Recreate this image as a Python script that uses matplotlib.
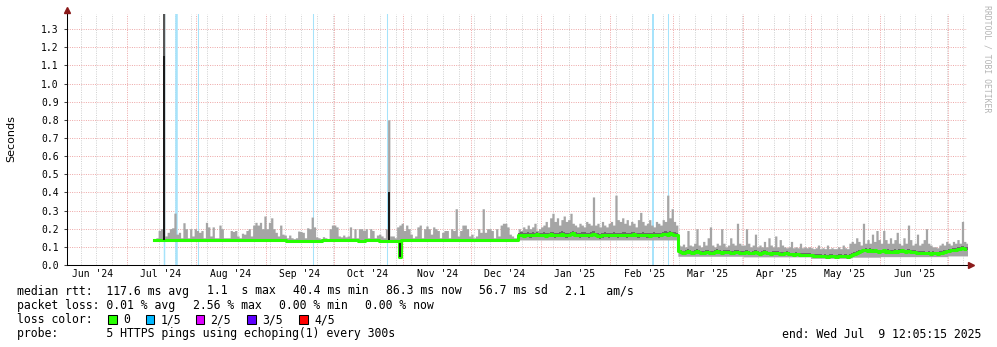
import numpy as np
import pandas as pd
import matplotlib
matplotlib.use("Agg")
import matplotlib.pyplot as plt
import matplotlib.dates as mdates
from matplotlib.patches import Rectangle

# graph window: 400 days ending at the last update
t_end = pd.Timestamp("2025-07-09 12:05:15")
t_start = t_end - pd.Timedelta(days=400)

# one consolidated row per day
days = pd.date_range("2024-07-13", "2025-07-09", freq="D")

# max ping (top of the smoke), seconds
hi_jul24 = [0.145, 0.15, 0.19, 0.2, 1.45, 0.16, 0.18, 0.2, 0.205, 0.286, 0.17, 0.18, 0.15, 0.233, 0.2, 0.15,
            0.2, 0.16, 0.2]
hi_aug24 = [0.19, 0.18, 0.19, 0.15, 0.235, 0.21, 0.16, 0.21, 0.15, 0.15, 0.22, 0.2, 0.15, 0.15, 0.15, 0.19,
            0.185, 0.19, 0.16, 0.15, 0.175, 0.17, 0.19, 0.2, 0.16, 0.22, 0.235, 0.22, 0.235, 0.2, 0.27]
hi_sep24 = [0.2, 0.235, 0.26, 0.2, 0.18, 0.16, 0.22, 0.17, 0.165, 0.15, 0.165, 0.15, 0.145, 0.15, 0.187, 0.185,
            0.18, 0.15, 0.205, 0.2, 0.264, 0.21, 0.155, 0.15, 0.145, 0.156, 0.15, 0.145, 0.2, 0.22]
hi_oct24 = [0.22, 0.21, 0.16, 0.155, 0.165, 0.155, 0.16, 0.21, 0.15, 0.2, 0.15, 0.2, 0.2, 0.19, 0.2, 0.15,
            0.2, 0.19, 0.15, 0.165, 0.17, 0.16, 0.15, 0.2, 0.8, 0.16, 0.16, 0.15, 0.21, 0.22, 0.23]
hi_nov24 = [0.19, 0.22, 0.2, 0.17, 0.15, 0.16, 0.21, 0.22, 0.15, 0.2, 0.215, 0.2, 0.17, 0.21, 0.2, 0.19,
            0.15, 0.18, 0.19, 0.19, 0.15, 0.2, 0.19, 0.31, 0.16, 0.19, 0.22, 0.22, 0.2, 0.16]
hi_dec24 = [0.17, 0.15, 0.16, 0.2, 0.18, 0.31, 0.18, 0.2, 0.2, 0.19, 0.15, 0.2, 0.16, 0.22, 0.23, 0.23,
            0.21, 0.17, 0.16, 0.15, 0.15, 0.2, 0.19, 0.21, 0.2, 0.22, 0.2, 0.21, 0.23, 0.19, 0.2]
hi_jan25 = [0.21, 0.22, 0.24, 0.21, 0.26, 0.285, 0.24, 0.26, 0.22, 0.25, 0.27, 0.24, 0.25, 0.285, 0.23, 0.22,
            0.21, 0.23, 0.22, 0.21, 0.24, 0.23, 0.22, 0.375, 0.22, 0.23, 0.21, 0.24, 0.22, 0.21, 0.23]
hi_feb25 = [0.24, 0.22, 0.385, 0.25, 0.24, 0.26, 0.23, 0.25, 0.22, 0.24, 0.23, 0.21, 0.25, 0.29, 0.24, 0.22,
            0.23, 0.25, 0.22, 0.21, 0.24, 0.23, 0.22, 0.25, 0.24, 0.385, 0.26, 0.31]
hi_mar25 = [0.24, 0.22, 0.11, 0.105, 0.115, 0.1, 0.19, 0.11, 0.105, 0.12, 0.2, 0.11, 0.1, 0.13, 0.11, 0.15,
            0.21, 0.11, 0.1, 0.12, 0.11, 0.2, 0.12, 0.1, 0.11, 0.15, 0.12, 0.11, 0.23, 0.12, 0.11]
hi_apr25 = [0.11, 0.2, 0.12, 0.1, 0.11, 0.17, 0.1, 0.11, 0.1, 0.13, 0.1, 0.15, 0.11, 0.1, 0.16, 0.1,
            0.14, 0.11, 0.1, 0.095, 0.1, 0.13, 0.095, 0.1, 0.095, 0.12, 0.095, 0.1, 0.095, 0.1]
hi_may25 = [0.095, 0.09, 0.095, 0.11, 0.09, 0.095, 0.09, 0.11, 0.09, 0.095, 0.09, 0.09, 0.1, 0.09, 0.11, 0.095,
            0.09, 0.12, 0.13, 0.12, 0.15, 0.13, 0.11, 0.23, 0.12, 0.14, 0.12, 0.17, 0.13, 0.19, 0.14]
hi_jun25 = [0.12, 0.19, 0.14, 0.12, 0.15, 0.12, 0.14, 0.18, 0.12, 0.11, 0.15, 0.12, 0.22, 0.14, 0.11, 0.12,
            0.17, 0.11, 0.12, 0.14, 0.2, 0.12, 0.11, 0.1, 0.1, 0.095, 0.11, 0.12, 0.11, 0.13]
hi_jul25 = [0.12, 0.11, 0.13, 0.12, 0.14, 0.12, 0.24, 0.13, 0.12]

# median rtt, seconds
med_jul24 = [0.138] * 19
med_aug24 = [0.138] * 26 + [0.136] * 5
med_sep24 = [0.136] * 9 + [0.13] * 16 + [0.136] * 5
med_oct24 = [0.138] * 11 + [0.133] * 3 + [0.138] * 6 + [0.13] * 9 + [0.046, 0.138]
med_nov24 = [0.138] * 30
med_dec24 = [0.138] * 21 + [0.163, 0.168, 0.162, 0.165, 0.168, 0.163, 0.166, 0.165, 0.17, 0.165]
med_jan25 = [0.165, 0.168, 0.162, 0.165, 0.17, 0.166, 0.163, 0.165, 0.168, 0.172, 0.166, 0.163, 0.165, 0.17,
             0.175, 0.168, 0.165, 0.163, 0.166, 0.168, 0.165, 0.163, 0.168, 0.172, 0.165, 0.16, 0.158, 0.163,
             0.168, 0.165, 0.163]
med_feb25 = [0.165, 0.168, 0.165, 0.163, 0.165, 0.168, 0.166, 0.163, 0.165, 0.168, 0.17, 0.165, 0.163, 0.165,
             0.168, 0.165, 0.163, 0.162, 0.165, 0.167, 0.165, 0.163, 0.165, 0.17, 0.172, 0.168, 0.175, 0.17]
med_mar25 = [0.168, 0.165, 0.075, 0.072, 0.068, 0.074, 0.078, 0.07, 0.066, 0.072, 0.076, 0.07, 0.066, 0.068,
             0.074, 0.07, 0.065, 0.068, 0.072, 0.076, 0.07, 0.066, 0.07, 0.074, 0.072, 0.068, 0.065, 0.07, 0.073,
             0.068, 0.066]
med_apr25 = [0.068, 0.072, 0.066, 0.064, 0.068, 0.07, 0.065, 0.062, 0.066, 0.07, 0.068, 0.064, 0.062, 0.066,
             0.068, 0.065, 0.062, 0.06, 0.064, 0.066, 0.062, 0.058, 0.056, 0.06, 0.058, 0.055, 0.057, 0.054,
             0.056, 0.055]
med_may25 = [0.053, 0.05, 0.052, 0.048, 0.05, 0.047, 0.049, 0.046, 0.048, 0.05, 0.047, 0.046, 0.048, 0.05,
             0.047, 0.049, 0.046, 0.05, 0.055, 0.06, 0.066, 0.07, 0.075, 0.08, 0.085, 0.078, 0.082, 0.076, 0.08,
             0.075, 0.072]
med_jun25 = [0.075, 0.08, 0.072, 0.076, 0.07, 0.074, 0.078, 0.072, 0.076, 0.08, 0.075, 0.072, 0.078, 0.074,
             0.07, 0.072, 0.068, 0.066, 0.065, 0.068, 0.064, 0.066, 0.062, 0.065, 0.064, 0.062, 0.066, 0.068,
             0.072, 0.075]
med_jul25 = [0.078, 0.08, 0.082, 0.085, 0.088, 0.09, 0.092, 0.09, 0.088]

# min ping (bottom of the smoke), seconds
lo_jul24 = [0.136] * 19
lo_aug24 = [0.136] * 31
lo_sep24 = [0.134] * 9 + [0.128] * 16 + [0.134] * 5
lo_oct24 = [0.136] * 20 + [0.128] * 9 + [0.046, 0.136]
lo_nov24 = [0.136] * 30
lo_dec24 = [0.136] * 21 + [0.138] * 10
lo_jan25 = [0.138] * 31
lo_feb25 = [0.138] * 28
lo_mar25 = [0.138] * 2 + [0.048] * 29
lo_apr25 = [0.045] * 30
lo_may25 = [0.037] * 18 + [0.043] * 13
lo_jun25 = [0.046] * 30
lo_jul25 = [0.05] * 9

# dark inner band of the smoke (2nd..4th ping): [first day, last day, below median, above median]
band_rows = [("2024-12-22", "2025-03-02", 0.012, 0.014),
             ("2025-03-03", "2025-07-09", 0.008, 0.01)]

# single-row outliers drawn in black: day, bottom, top
spike_days = ["2024-07-17", "2024-10-25", "2024-10-30"]
spike_lo = [0.14, 0.14, 0.046]
spike_hi = [1.15, 0.40, 0.12]

# packet loss 1/5 events: start, length in hours
loss_start = ["2024-07-17 09:30", "2024-07-22 12:00", "2024-08-01 12:00", "2024-09-21 19:00",
              "2024-10-24 16:00", "2025-02-19 12:00", "2025-02-26 05:00"]
loss_hours = [16, 27, 11, 11, 11, 21, 11]

loss_colors = ["#26ff00", "#00b8ff", "#dd00ff", "#5e00ff", "#ff0000"]
loss_names = ["0", "1/5", "2/5", "3/5", "4/5"]

hi = np.array(hi_jul24 + hi_aug24 + hi_sep24 + hi_oct24 + hi_nov24 + hi_dec24 + hi_jan25 + hi_feb25
              + hi_mar25 + hi_apr25 + hi_may25 + hi_jun25 + hi_jul25)
med = np.array(med_jul24 + med_aug24 + med_sep24 + med_oct24 + med_nov24 + med_dec24 + med_jan25
               + med_feb25 + med_mar25 + med_apr25 + med_may25 + med_jun25 + med_jul25)
lo = np.array(lo_jul24 + lo_aug24 + lo_sep24 + lo_oct24 + lo_nov24 + lo_dec24 + lo_jan25 + lo_feb25
              + lo_mar25 + lo_apr25 + lo_may25 + lo_jun25 + lo_jul25)

W, H = 997, 347
fig = plt.figure(figsize=(W / 100, H / 100), dpi=100)
fig.patch.set_facecolor("white")
ax = fig.add_axes([67 / W, (H - 265) / H, 900 / W, 251 / H])

x = mdates.date2num(days)
xe = np.append(x, x[-1] + 1)


def stepped(v):
    return np.append(v, v[-1])


# grid: weekly (mondays) in grey, month starts in red
dots = dict(lw=0.72, ls=(0, (1, 1.3)), zorder=0)
for d in pd.date_range(t_start, t_end, freq="W-MON"):
    if d.day != 1:
        ax.axvline(mdates.date2num(d), color="#d2d2d2", **dots)
for d in pd.date_range(t_start.normalize(), t_end, freq="MS"):
    ax.axvline(mdates.date2num(d), color="#eeaaaa", **dots)
for v in np.arange(0.1, 1.35, 0.1):
    ax.axhline(v, color="#eeaaaa", **dots)

# loss background, one pixel is about 10.7 hours
for s, h in zip(loss_start, loss_hours):
    t0 = pd.Timestamp(s)
    ax.axvline(mdates.date2num(t0 + pd.Timedelta(hours=h / 2)), color="#a6e3fb",
               lw=max(h / 10.7, 1) * 0.72, zorder=1)

# smoke
ax.fill_between(xe, stepped(lo), stepped(hi), step="post", color="#a5a5a5", lw=0, zorder=2)
for first, last, below, above in band_rows:
    idx = np.where((days >= first) & (days <= last))[0]
    xs = np.append(x[idx], x[idx][-1] + 1)
    ax.fill_between(xs, stepped(med[idx] - below), stepped(med[idx] + above), step="post",
                    color="#6a6a6a", lw=0, zorder=3)

# the big outlier row keeps its upper pings dark
k = list(days).index(pd.Timestamp(spike_days[0]))
ax.bar(x[k], hi[k] - spike_lo[0], bottom=spike_lo[0], width=1, align="edge", color="#555555", lw=0, zorder=3)

# median line
ax.step(xe, stepped(med), where="post", color=loss_colors[0], lw=2.2, zorder=4)

for d, b, t in zip(spike_days, spike_lo, spike_hi):
    k = list(days).index(pd.Timestamp(d))
    ax.bar(x[k], t - b, bottom=b, width=1, align="edge", color="#1a1a1a", lw=0, zorder=5)

ax.set_xlim(mdates.date2num(t_start), mdates.date2num(t_end))
ax.set_ylim(0, 1.383)

for side in ["top", "right"]:
    ax.spines[side].set_visible(False)
for side in ["left", "bottom"]:
    ax.spines[side].set_color("black")
    ax.spines[side].set_linewidth(0.75)
    ax.spines[side].set_zorder(6)

ax.plot([1.004], [0], marker=">", ms=4.5, color="#8b1a1a", transform=ax.transAxes, clip_on=False, zorder=7)
ax.plot([0], [1.016], marker="^", ms=4.5, color="#8b1a1a", transform=ax.transAxes, clip_on=False, zorder=7)

mono = "DejaVu Sans Mono"
yt = np.round(np.arange(0, 1.35, 0.1), 1)
ax.set_yticks(yt)
ax.set_yticklabels(["%.1f" % v for v in yt], family=mono, fontsize=7)
ax.tick_params(axis="y", length=2.5, width=0.75, pad=3.5, color="#444444")

# month names sit in the middle of each month
mid = pd.date_range("2024-06-01", "2025-06-01", freq="MS") + pd.Timedelta(days=15)
ax.set_xticks(mdates.date2num(mid))
ax.set_xticklabels([d.strftime("%b '%y") for d in mid], family=mono, fontsize=7)
ax.tick_params(axis="x", length=0, pad=3)

ax.set_facecolor("white")


def put(px, py, s, **kw):
    kw.setdefault("family", mono)
    kw.setdefault("fontsize", 8.3)
    fig.text(px / W, 1 - py / H, s, va="center", **kw)


put(11, 139, "Seconds", rotation=90, ha="center", family="DejaVu Sans", fontsize=8)
put(987, 59, "RRDTOOL / TOBI OETIKER", rotation=270, ha="center", fontsize=5.9, color="#b4b4b4")

# legend rows: items are spaced like rrdtool's gprint glue
cw, gap, x0 = 6.95, 16.5, 16.7
row_y = [291, 305.3, 319.6, 334]
rows = [["median rtt:  117.6 ms avg", "1.1  s max", "40.4 ms min", "86.3 ms now", "56.7 ms sd", "2.1   am/s"],
        ["packet loss: 0.01 % avg", "2.56 % max", "0.00 % min", "0.00 % now"]]
for ry, items in zip(row_y, rows):
    px = x0
    for s in items:
        put(px, ry, s)
        px += len(s) * cw + gap

put(x0, row_y[2], "loss color:")
box_x = [108, 145.5, 195.5, 247, 299]
for bx, c, name in zip(box_x, loss_colors, loss_names):
    fig.patches.append(Rectangle((bx / W, 1 - (row_y[2] + 4.5) / H), 8.5 / W, 9 / H,
                                 transform=fig.transFigure, facecolor=c, edgecolor="black", lw=0.75))
    put(bx + 15, row_y[2], name)

put(x0, row_y[3], "probe:       5 HTTPS pings using echoping(1) every 300s")
put(981, row_y[3], "end: Wed Jul  9 12:05:15 2025", ha="right")

fig.savefig("out.png", dpi=100, facecolor="white")
